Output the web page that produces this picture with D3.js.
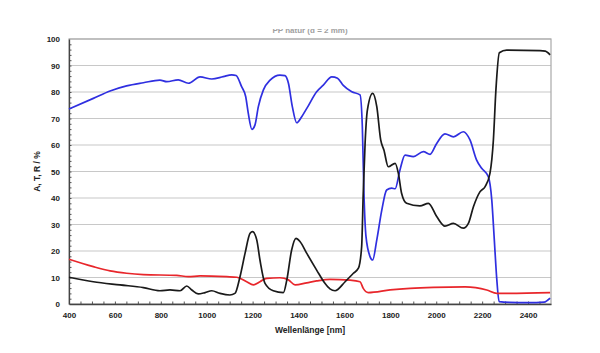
<!DOCTYPE html>
<html>
<head>
<meta charset="utf-8">
<script src="https://cdn.jsdelivr.net/npm/d3@7"></script>
<style>
  body { margin: 0; background: #fff; }
  text { font-family: "Liberation Sans", Arial, sans-serif; }
</style>
</head>
<body>
<div id="chart"></div>
<script>
// wavelength (nm) / value (%) pairs
const transmission = [
    [400, 73.6], [506, 77.6], [579, 80.4], [651, 82.3], [724, 83.5], [796, 84.5], [826, 83.9],
    [876, 84.6], [920, 83.3], [971, 85.7], [1022, 84.9], [1072, 85.8], [1109, 86.5], [1128, 86.2],
    [1152, 82.0], [1170, 78.2], [1181, 72], [1197, 65.9], [1210, 67.5], [1225, 74.5], [1247, 80.8],
    [1276, 84.5], [1319, 86.4], [1341, 86.2], [1356, 83.3], [1373, 74.5], [1392, 68.4], [1414, 70.7],
    [1436, 73.8], [1479, 80.1], [1508, 82.6], [1545, 85.7], [1570, 85.2], [1595, 82.5], [1632, 80.1],
    [1668, 78.9], [1678, 66.9], [1685, 41.8], [1694, 25.4], [1712, 17.8], [1723, 16.6],
    [1741, 24.2], [1763, 35.5], [1784, 43], [1806, 43.7], [1821, 43.5], [1842, 50.6],
    [1864, 56.2], [1900, 55.6], [1944, 57.5], [1973, 56.5], [2002, 60.6], [2038, 64.2], [2075, 63.1],
    [2118, 65], [2147, 61.9], [2176, 54.3], [2198, 51.2], [2227, 48], [2242, 39.2], [2253, 24.2],
    [2264, 9.1], [2274, 0.9], [2320, 0.6], [2400, 0.5], [2470, 0.7], [2496, 2.2]
];

const absorption = [
    [400, 10.1], [506, 8.4], [622, 7.2], [724, 6.2], [796, 5.0], [840, 5.3], [884, 5.0], [913, 6.8],
    [935, 5.3], [963, 3.8], [993, 4.3], [1022, 5], [1058, 4], [1101, 3.4], [1123, 4], [1145, 10.3],
    [1167, 19.1], [1189, 26.7], [1200, 27.3], [1218, 24.2], [1232, 16.6], [1254, 7.8], [1290, 5],
    [1334, 4.3], [1349, 9.1], [1370, 20.4], [1389, 24.8], [1407, 23.5], [1436, 19.1], [1479, 12.8],
    [1515, 7.8], [1537, 5.7], [1559, 5], [1603, 8.4], [1639, 11.6], [1661, 13.5], [1675, 21.6],
    [1682, 41.8], [1690, 60.6], [1700, 73.2], [1723, 79.5], [1741, 74.5], [1758, 61.9], [1772, 58.1],
    [1791, 51.8], [1821, 53.1], [1835, 49.3], [1849, 41.8], [1871, 38], [1929, 37],
    [1966, 38], [2002, 33], [2038, 29.4], [2075, 30.4], [2118, 28.6], [2140, 30.4], [2162, 36.7],
    [2191, 42.4], [2213, 44.3], [2234, 49.3], [2249, 61.9], [2260, 80.8], [2275, 94.8],
    [2307, 95.8], [2452, 95.6], [2475, 95.4], [2496, 94]
];

const reflection = [
    [400, 16.9], [506, 14.1], [579, 12.5], [651, 11.6], [724, 11.1], [869, 10.8], [920, 10.3],
    [971, 10.6], [1087, 10.3], [1131, 10.1], [1174, 8.4], [1203, 7.2], [1232, 8.4], [1261, 9.7],
    [1319, 9.9], [1356, 9.1], [1385, 7.2], [1436, 8.0], [1479, 8.7], [1537, 9.3], [1624, 9.0],
    [1668, 8.4], [1682, 5.9], [1704, 4.3], [1799, 5.3], [1886, 5.9], [1988, 6.3],
    [2126, 6.5], [2220, 5.3], [2264, 4.0], [2496, 4.3]
];

const xTicks = [400, 600, 800, 1000, 1200, 1400, 1600, 1800, 2000, 2200, 2400];
const yTicks = [0, 10, 20, 30, 40, 50, 60, 70, 80, 90, 100];

const series = [
    {name: "T", values: transmission, color: "#2f2fe0"},
    {name: "R", values: reflection, color: "#e8262b"},
    {name: "A", values: absorption, color: "#1a1a1a"}
];

const margin = {top: 39, right: 49, bottom: 49, left: 69};
const width = 600 - margin.left - margin.right;
const height = 353 - margin.top - margin.bottom;

const svg = d3.select("#chart").append("svg")
    .attr("width", 600)
    .attr("height", 353);

// title, only its lower part shows in the picture
svg.append("defs").append("clipPath")
    .attr("id", "titleClip")
    .append("rect")
    .attr("x", 0).attr("y", 29)
    .attr("width", 600).attr("height", 10);

svg.append("text")
    .attr("x", 310)
    .attr("y", 33)
    .attr("text-anchor", "middle")
    .attr("clip-path", "url(#titleClip)")
    .style("font-size", "8px")
    .style("font-weight", "bold")
    .style("fill", "#a0a0a0")
    .text("PP natur (d = 2 mm)");

const g = svg.append("g")
    .attr("transform", "translate(" + margin.left + "," + margin.top + ")");

const x = d3.scaleLinear().domain([400, 2500]).range([0, width]);
const y = d3.scaleLinear().domain([0, 100]).range([height, 0]);

// horizontal grid
g.append("g")
    .selectAll("line")
    .data(yTicks.slice(1))
    .enter().append("line")
    .attr("x1", 0).attr("x2", width)
    .attr("y1", d => y(d)).attr("y2", d => y(d))
    .attr("stroke", "#c8c8c8")
    .attr("stroke-width", 1.2);

// frame (top and right in grey)
g.append("rect")
    .attr("width", width).attr("height", height)
    .attr("fill", "none")
    .attr("stroke", "#a8a8a8")
    .attr("stroke-width", 1.2);

// minor ticks
g.append("g")
    .attr("transform", "translate(0," + height + ")")
    .call(d3.axisBottom(x).tickValues(d3.range(450, 2500, 50)).tickSize(-2.5).tickFormat(""))
    .call(a => a.select(".domain").remove())
    .selectAll("line").attr("stroke", "#555");

g.append("g")
    .call(d3.axisLeft(y).tickValues(d3.range(2, 100, 2)).tickSize(-2.5).tickFormat(""))
    .call(a => a.select(".domain").remove())
    .selectAll("line").attr("stroke", "#555");

// x axis
const xAxis = g.append("g")
    .attr("transform", "translate(0," + height + ")")
    .call(d3.axisBottom(x).tickValues(xTicks).tickSize(0).tickPadding(8).tickFormat(d3.format("d")));
xAxis.select(".domain").attr("stroke", "#444").attr("stroke-width", 1.3);
xAxis.selectAll("text")
    .style("font-size", "8px")
    .style("font-weight", "bold")
    .attr("fill", "#222");

// y axis
const yAxis = g.append("g")
    .call(d3.axisLeft(y).tickValues(yTicks).tickSize(0).tickPadding(9).tickFormat(d3.format("d")));
yAxis.select(".domain").attr("stroke", "#444").attr("stroke-width", 1.3);
yAxis.selectAll("text")
    .style("font-size", "8px")
    .style("font-weight", "bold")
    .attr("fill", "#222");

// axis titles
svg.append("text")
    .attr("x", margin.left + width / 2)
    .attr("y", 333)
    .attr("text-anchor", "middle")
    .style("font-size", "8.5px")
    .style("font-weight", "bold")
    .style("fill", "#222")
    .text("Wellenlänge [nm]");

svg.append("text")
    .attr("transform", "translate(40," + (margin.top + height / 2) + ") rotate(-90)")
    .attr("text-anchor", "middle")
    .style("font-size", "8.5px")
    .style("font-weight", "bold")
    .style("fill", "#222")
    .text("A, T, R / %");

// curves
const line = d3.line()
    .x(d => x(d[0]))
    .y(d => y(d[1]))
    .curve(d3.curveMonotoneX);

g.append("g")
    .selectAll("path")
    .data(series)
    .enter().append("path")
    .attr("d", d => line(d.values))
    .attr("fill", "none")
    .attr("stroke", d => d.color)
    .attr("stroke-width", 1.7)
    .attr("stroke-linejoin", "round");
</script>
</body>
</html>
